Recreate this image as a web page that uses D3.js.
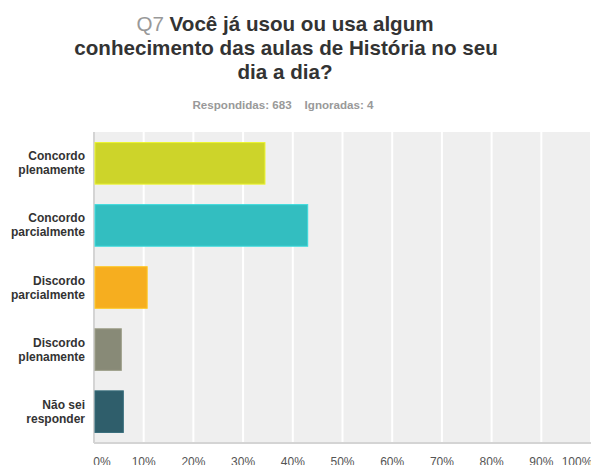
<!DOCTYPE html>
<html>
<head>
<meta charset="utf-8">
<script src="https://cdn.jsdelivr.net/npm/d3@7"></script>
<style>
    body { margin: 0; background: #fff; }
    text { font-family: "Liberation Sans", Arial, sans-serif; }
</style>
</head>
<body>
<script>
// respostas Q7
var categories = [
    ['Concordo', 'plenamente'],
    ['Concordo', 'parcialmente'],
    ['Discordo', 'parcialmente'],
    ['Discordo', 'plenamente'],
    ['Não sei', 'responder']
];
var values = [34.4, 43.0, 10.7, 5.5, 5.9];
var colors = ['#cdd42a', '#33bec0', '#f6ae1f', '#888a77', '#2f5e6b'];
var ticks = [0, 10, 20, 30, 40, 50, 60, 70, 80, 90, 100];

var W = 591, H = 465;
var plotLeft = 94, plotRight = 591, plotTop = 132, plotBottom = 443;

var svg = d3.select('body').append('svg')
    .attr('width', W)
    .attr('height', H);

// title
var title = svg.append('text')
    .attr('text-anchor', 'middle')
    .style('font-size', '20.6px')
    .style('font-weight', 'bold')
    .style('fill', '#333');
var t1 = title.append('tspan').attr('x', 285).attr('y', 31);
t1.append('tspan').text('Q7 ').style('fill', '#999').style('font-weight', 'normal');
t1.append('tspan').text('Você já usou ou usa algum');
title.append('tspan').attr('x', 286).attr('y', 55).text('conhecimento das aulas de História no seu');
title.append('tspan').attr('x', 285).attr('y', 79).text('dia a dia?');

svg.append('text')
    .attr('x', 283)
    .attr('y', 109)
    .attr('text-anchor', 'middle')
    .style('font-size', '11.6px')
    .style('font-weight', 'bold')
    .style('fill', '#999')
    .attr('xml:space', 'preserve')
    .text('Respondidas: 683    Ignoradas: 4');

var x = d3.scaleLinear().domain([0, 100]).range([plotLeft, plotRight]);
var y = d3.scaleBand().domain(d3.range(categories.length))
    .range([plotTop, plotBottom])
    .paddingInner(0.33)
    .paddingOuter(0.17);

// plot background
svg.append('rect')
    .attr('x', plotLeft)
    .attr('y', plotTop)
    .attr('width', plotRight - plotLeft)
    .attr('height', plotBottom - plotTop)
    .style('fill', '#efefef');

svg.selectAll('line.grid').data(ticks.slice(1)).enter().append('line')
    .attr('class', 'grid')
    .attr('x1', function(d) { return x(d); })
    .attr('x2', function(d) { return x(d); })
    .attr('y1', plotTop)
    .attr('y2', plotBottom)
    .style('stroke', '#fff')
    .style('stroke-width', 2);

svg.append('line')
    .attr('x1', plotLeft).attr('x2', plotLeft)
    .attr('y1', plotTop).attr('y2', plotBottom)
    .style('stroke', '#d4d4d4')
    .style('stroke-width', 2);
svg.append('line')
    .attr('x1', plotLeft).attr('x2', plotRight)
    .attr('y1', plotBottom).attr('y2', plotBottom)
    .style('stroke', '#d4d4d4')
    .style('stroke-width', 2);

svg.selectAll('rect.bar').data(values).enter().append('rect')
    .attr('class', 'bar')
    .attr('x', x(0) + 1)
    .attr('y', function(d, i) { return y(i); })
    .attr('width', function(d) { return x(d) - x(0) - 1; })
    .attr('height', y.bandwidth())
    .style('fill', function(d, i) { return colors[i]; })
    .style('stroke', function(d, i) { return d3.color(colors[i]).brighter(0.4); })
    .style('stroke-width', 1);

// category labels
categories.forEach(function(c, i) {
    var cy = y(i) + y.bandwidth() / 2;
    var lab = svg.append('text')
        .attr('text-anchor', 'end')
        .style('font-size', '12px')
        .style('font-weight', 'bold')
        .style('fill', '#333');
    lab.append('tspan').attr('x', 85).attr('y', cy - 3).text(c[0]);
    lab.append('tspan').attr('x', 85).attr('y', cy + 11).text(c[1]);
});

// x tick labels
svg.selectAll('text.tick').data(ticks).enter().append('text')
    .attr('class', 'tick')
    .attr('x', function(d) { return d === 0 ? x(d) + 8 : (d === 100 ? x(d) - 14 : x(d)); })
    .attr('y', 466)
    .attr('text-anchor', 'middle')
    .style('font-size', '12px')
    .style('fill', '#555')
    .text(function(d) { return d + '%'; });
</script>
</body>
</html>
